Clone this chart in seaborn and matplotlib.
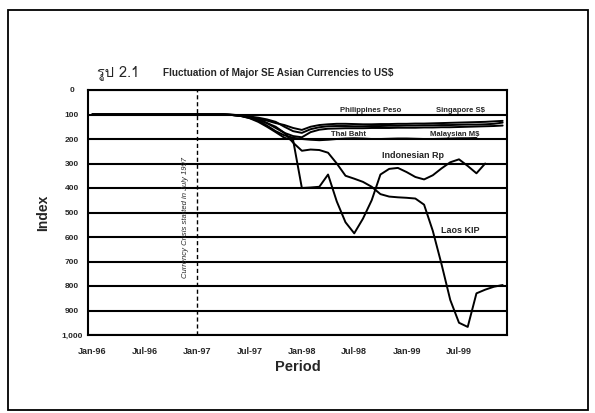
import numpy as np
import pandas as pd
import matplotlib
matplotlib.use("Agg")
import matplotlib.pyplot as plt
import seaborn as sns
from matplotlib import font_manager
from matplotlib.ft2font import FT2Font

# monthly periods Jan-96 .. Dec-99
months = pd.date_range("1996-01-01", "1999-12-01", freq="MS")
month_labels = [d.strftime("%b-%y") for d in months]
tick_every = 6

flat = [100] * 16
philippines = flat + [101, 104, 110, 118, 125, 135, 143, 155, 163, 150, 143, 140, 138, 138,
                      139, 140, 140, 139, 139, 138, 138, 137, 137, 136, 135, 134, 133, 132,
                      131, 130, 128, 126]
singapore = flat + [101, 103, 108, 113, 120, 130, 150, 168, 175, 160, 152, 148, 147, 147,
                    148, 148, 147, 147, 146, 146, 145, 145, 144, 144, 143, 143, 142, 141,
                    141, 140, 138, 133]
thai = flat + [102, 105, 112, 120, 135, 155, 175, 188, 193, 172, 162, 158, 157, 156,
               156, 156, 155, 155, 155, 154, 154, 154, 153, 153, 152, 152, 151, 150,
               149, 148, 147, 145]
malaysia = flat + [102, 106, 114, 125, 145, 168, 185, 195, 200, 203, 205, 203, 200, 198,
                   197, 198, 200, 200, 199, 198, 198, 199, 200, 200, 199, 198, 197, 197,
                   196, np.nan, np.nan, np.nan]
indonesia = flat + [102, 106, 115, 130, 150, 172, 195, 205, 400, 398, 395, 345, 455, 540,
                    585, 525, 450, 345, 322, 318, 335, 355, 365, 348, 320, 295, 283, 310,
                    340, 300, np.nan, np.nan]
laos = flat + [102, 105, 110, 120, 135, 150, 175, 215, 248, 243, 245, 256, 300, 350,
               362, 375, 395, 425, 435, 438, 440, 443, 468, 575, 711, 857, 950, 967,
               830, 815, 803, 796]

series = {"Philippines Peso": philippines, "Singapore S$": singapore, "Thai Baht": thai,
          "Malaysian M$": malaysia, "Indonesian Rp": indonesia, "Laos KIP": laos}

# label positions (month index, index value, font size)
label_pos = {"Philippines Peso": (31.9, 97, 5.5), "Singapore S$": (42.2, 97, 5.5),
             "Thai Baht": (29.3, 197, 5.5), "Malaysian M$": (41.5, 197, 5.5),
             "Indonesian Rp": (36.7, 284, 6.5), "Laos KIP": (42.1, 592, 6.5)}

yticks = list(range(0, 1001, 100))
ytick_labels = [f"{v:,}" for v in yticks]

rows = []
for name, vals in series.items():
    for i, v in enumerate(vals):
        rows.append({"month": i, "value": v, "currency": name})
df = pd.DataFrame(rows)


def thai_family():
    for f in font_manager.fontManager.ttflist:
        try:
            if 0x0E23 in FT2Font(f.fname).get_charmap():
                return f.name
        except Exception:
            pass
    return None


sns.set_style("white")
fams = ["Liberation Sans", "DejaVu Sans"]
plt.rcParams["font.family"] = fams
th = thai_family()
thai_fams = ([th] if th else []) + fams

fig = plt.figure(figsize=(5.95, 4.13), dpi=100)
ax = fig.add_axes([88 / 595, 1 - 335 / 413, 419 / 595, 245 / 413])

sns.lineplot(data=df, x="month", y="value", hue="currency",
             palette=["black"] * len(series), legend=False, ax=ax, lw=1.4)

ax.set_xlim(-0.5, len(months) - 0.5)
ax.set_ylim(1000, 0)
ax.set_yticks(yticks)
ax.set_yticklabels(ytick_labels, fontsize=6, fontweight="bold", ha="center")
ax.tick_params(axis="y", length=0, pad=11.5)
ax.set_xticks(range(0, len(months), tick_every))
ax.set_xticklabels(month_labels[::tick_every], fontsize=6.5, fontweight="bold")
ax.tick_params(axis="x", length=0, pad=8.5)
ax.yaxis.grid(True, color="black", lw=1.5)
ax.xaxis.grid(False)
for s in ax.spines.values():
    s.set_color("black")
    s.set_linewidth(1.5)

ax.axvline(12, color="black", lw=1, ls=(0, (3, 2)))
ax.text(10.7, 520, "Currency Crisis started in July 1997", rotation=90,
        fontsize=5.5, ha="center", va="center", style="italic")

for name, (x, y, fs) in label_pos.items():
    ax.text(x, y, name, fontsize=fs, fontweight="bold", ha="center", va="bottom")

ax.set_xlabel("Period", fontsize=10.5, fontweight="bold", labelpad=3)
ax.set_ylabel("Index", fontsize=10, fontweight="bold", labelpad=8)

fig.text(97 / 595, 1 - 73 / 413, "รูป 2.1", fontsize=10.5, family=thai_fams,
         ha="left", va="center")
fig.text(163 / 595, 1 - 73 / 413, "Fluctuation of Major SE Asian Currencies to US$",
         fontsize=7.2, fontweight="bold", ha="left", va="center")

# scanned page frame
fig.patches.append(plt.Rectangle((8 / 595, 3 / 413), 580 / 595, 400 / 413,
                                 transform=fig.transFigure, fill=False,
                                 edgecolor="black", lw=1.3))

fig.savefig("out.png", dpi=100)
